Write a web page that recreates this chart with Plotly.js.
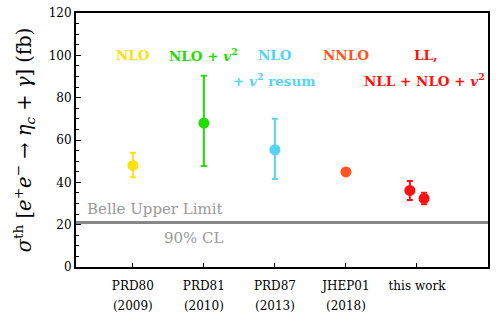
<!DOCTYPE html>
<html><head><meta charset="utf-8">
<script src="https://cdn.plot.ly/plotly-3.0.1.min.js"></script>
<style>html,body{margin:0;padding:0;background:#fff}#c{width:498px;height:322px}</style>
</head><body><div id="c"></div>
<script>
const categories = ["PRD80", "PRD81", "PRD87", "JHEP01", "this work"];
const years = ["(2009)", "(2010)", "(2013)", "(2018)", ""];
const catPos = [1, 2, 3, 4, 5];
const colors = ["#FFE010", "#22DD00", "#55D4F5", "#FF5522", "#FF1010"];
// x position (category index), value, upper error, lower error
const prd80 = {x:[1], y:[48], up:[6], dn:[5.6]};
const prd81 = {x:[2], y:[68], up:[22.4], dn:[20.3]};
const prd87 = {x:[3], y:[55.4], up:[14.6], dn:[13.8]};
const jhep01 = {x:[4], y:[44.9], up:[0], dn:[0]};
const thisWork = {x:[4.9, 5.1], y:[36.2, 32.4], up:[4.4, 2.7], dn:[4.6, 2.8]};
const belleLimit = 21;
const labels = [
  {x:1, y:100, t:"NLO", c:0},
  {x:2, y:100, t:"NLO + <i>v</i><sup>2</sup>", c:1},
  {x:3, y:100, t:"NLO", c:2},
  {x:3, y:88.5, t:"+ <i>v</i><sup>2</sup> resum", c:2},
  {x:4, y:100, t:"NNLO", c:3},
  {x:5.13, y:100, t:"LL,", c:4},
  {x:5.1, y:88.5, t:"NLL + NLO + <i>v</i><sup>2</sup>", c:4}
];

const series = [prd80, prd81, prd87, jhep01, thisWork];
const traces = series.map((s, i) => ({
  type: "scatter", mode: "markers", x: s.x, y: s.y,
  marker: {color: colors[i], size: 11},
  error_y: {type: "data", symmetric: false, array: s.up, arrayminus: s.dn,
            visible: i !== 3, color: colors[i], thickness: 2, width: 3},
  showlegend: false, hoverinfo: "skip"
}));
traces.push({type:"scatter", mode:"lines", x:[0.2, 6.0], y:[belleLimit, belleLimit],
  line:{color:"#888888", width:3}, showlegend:false, hoverinfo:"skip"});
traces.unshift(traces.pop());
// invisible trace to activate the second (year label) axis
traces.push({type:"scatter", mode:"markers", x:[catPos[0]], y:[belleLimit], xaxis:"x2",
  marker:{opacity:0}, showlegend:false, hoverinfo:"skip"});

const font = "DejaVu Serif";
const annotations = labels.map(l => ({
  x: l.x, y: l.y, xref: "x", yref: "y", text: "<b>" + l.t + "</b>", showarrow: false,
  font: {family: font, size: 13.5, color: colors[l.c]}
}));
annotations.push({x:1.31, y:27.4, xref:"x", yref:"y", text:"Belle Upper Limit",
  showarrow:false, font:{family:font, size:15, color:"#999999"}});
annotations.push({x:1.86, y:13.8, xref:"x", yref:"y", text:"90% CL",
  showarrow:false, font:{family:font, size:15, color:"#999999"}});

const layout = {
  width: 498, height: 322,
  margin: {l: 76, r: 10, t: 13, b: 55},
  paper_bgcolor: "#fff", plot_bgcolor: "#fff",
  font: {family: font, color: "#000", size: 12},
  xaxis: {range: [0.2, 6.0], tickvals: catPos, ticktext: categories,
    ticks: "inside", ticklen: 4, tickwidth: 1, tickcolor: "#000", ticklabelstandoff: 7,
    showline: true, mirror: true, linecolor: "#000", linewidth: 2,
    showgrid: false, zeroline: false, tickfont: {size: 12, family: font}},
  xaxis2: {range: [0.2, 6.0], overlaying: "x", side: "bottom", anchor: "y",
    tickvals: catPos, ticktext: years, ticks: "", ticklabelstandoff: 30,
    showline: false, showgrid: false, zeroline: false, tickfont: {size: 12, family: font}},
  yaxis: {range: [0, 120], dtick: 20, ticks: "inside", ticklen: 5, tickwidth: 1, tickcolor: "#000",
    minor: {dtick: 5, ticks: "inside", ticklen: 3, tickcolor: "#000"},
    showline: true, mirror: true, linecolor: "#000", linewidth: 2,
    showgrid: false, zeroline: false, tickfont: {size: 12, family: font},
    title: {text: "<i>σ</i><sup>th</sup> [<i>e</i><sup>+</sup><i>e</i><sup>−</sup> → <i>η</i><sub><i>c</i></sub> + <i>γ</i>] (fb)",
      font: {size: 19.5, family: font}, standoff: 12}},
  annotations: annotations
};
Plotly.newPlot("c", traces, layout, {displayModeBar: false, staticPlot: true});
</script></body></html>
